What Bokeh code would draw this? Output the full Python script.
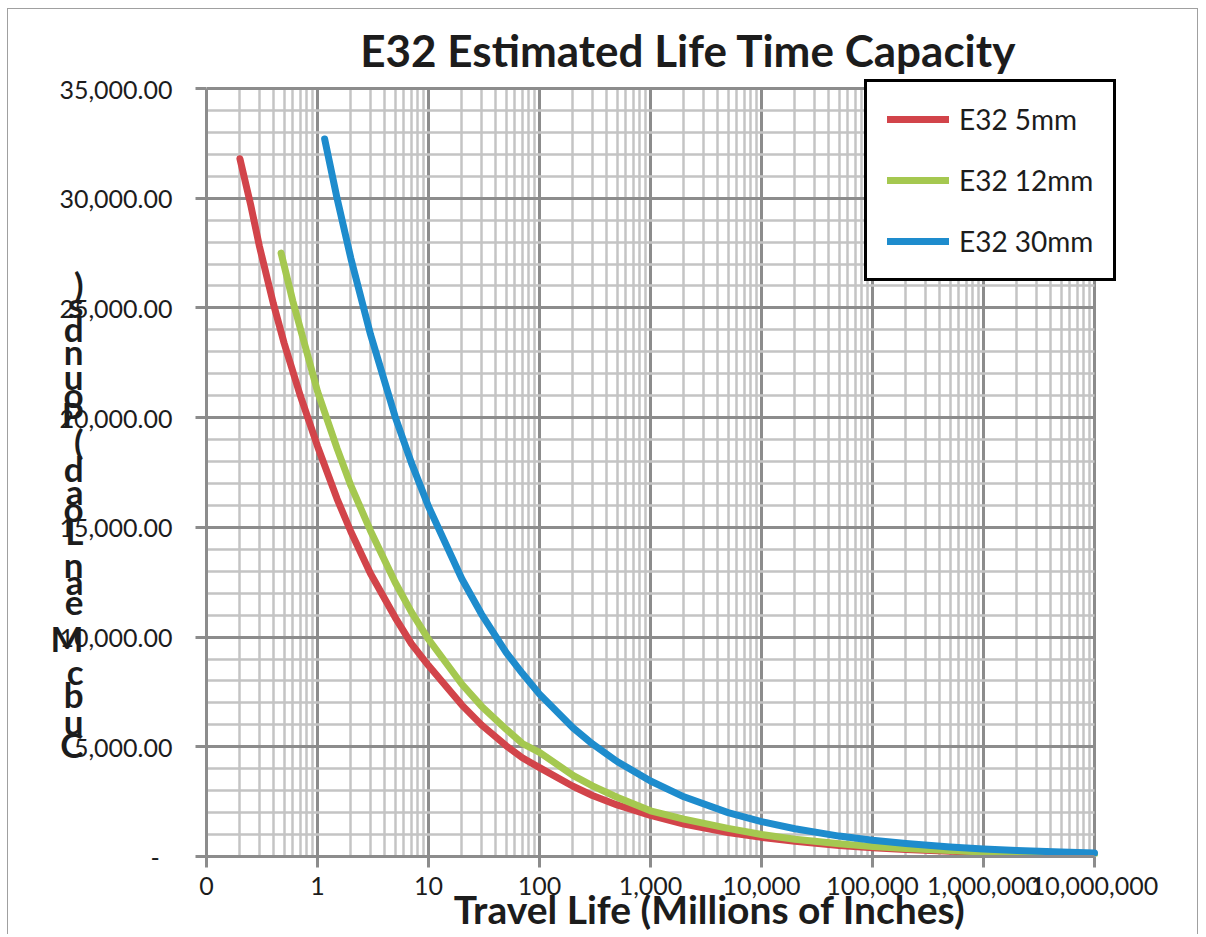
from bokeh.plotting import figure
from bokeh.models import (Range1d, FixedTicker, Legend, LegendItem, LinearAxis,
                          LinearScale)
from bokeh.embed import file_html
from bokeh.resources import INLINE

# ---- data ----
series_names = ["E32 5mm", "E32 12mm", "E32 30mm"]

red_x = [0.2, 0.25, 0.3, 0.4, 0.5, 0.7, 1, 1.5, 2, 3, 5, 7, 10, 20, 30, 50, 70,
         100, 200, 300, 500, 1000, 2000, 5000, 1e4, 2e4, 5e4, 1e5, 2e5, 5e5,
         1e6, 2e6]
red_y = [31800, 29700, 27800, 25200, 23400, 21000, 18700, 16300, 14800, 12900,
         10900, 9700, 8700, 6900, 6000, 5050, 4500, 4050, 3200, 2780, 2350,
         1870, 1480, 1090, 870, 690, 505, 400, 320, 235, 185, 150]

green_x = [0.47, 0.6, 0.8, 1, 1.5, 2, 3, 5, 7, 10, 20, 30, 50, 70, 100, 200,
           300, 500, 1000, 2000, 5000, 1e4, 2e4, 5e4, 1e5, 2e5, 5e5, 1e6, 2e6,
           5e6, 1e7]
green_y = [27500, 25300, 23000, 21200, 18600, 16900, 14850, 12500, 11150, 9900,
           7850, 6850, 5800, 5150, 4750, 3700, 3220, 2700, 2080, 1700, 1280,
           1000, 790, 580, 450, 360, 270, 210, 170, 125, 99]

blue_x = [1.16, 1.5, 2, 3, 5, 7, 10, 20, 30, 50, 70, 100, 200, 300, 500, 1000,
          2000, 5000, 1e4, 2e4, 5e4, 1e5, 2e5, 5e5, 1e6, 2e6, 5e6, 1e7]
blue_y = [32700, 30000, 27250, 23800, 20050, 17950, 15950, 12650, 11050, 9300,
          8350, 7400, 5870, 5130, 4330, 3440, 2720, 2000, 1590, 1265, 930, 740,
          590, 435, 345, 275, 200, 160]

x_major_ticks = [0.1, 1, 10, 100, 1000, 1e4, 1e5, 1e6, 1e7]
x_tick_labels = ["0", "1", "10", "100", "1,000", "10,000", "100,000",
                 "1,000,000", "10,000,000"]
y_major_ticks = [0, 5000, 10000, 15000, 20000, 25000, 30000, 35000]
y_tick_labels = ["-\u00a0\u00a0", "5,000.00", "10,000.00", "15,000.00",
                 "20,000.00", "25,000.00", "30,000.00", "35,000.00"]

title_text = "E32 Estimated Life Time Capacity"
x_title_text = "Travel Life (Millions of Inches)"
y_title_chars = list("CubcMeanLoad(Pounds)")

colors = ["#D2444A", "#A5C850", "#1E8CCD"]
TEXT = "#1c1c1c"

# ---- layout (pixels) ----
W, H = 1191, 926
FL, FT, FW, FH = 198, 69, 912, 778          # frame inside the canvas
X_MAX = 1.645e7                            # frame slightly wider than 1e7 (legend room)
Y_MAX = 35456                              # frame slightly taller than 35,000

p = figure(width=W, height=H, x_axis_type="log",
           x_range=Range1d(0.1, X_MAX), y_range=Range1d(0, Y_MAX),
           output_backend="svg", toolbar_location=None,
           min_border_left=FL, min_border_right=W - FL - FW,
           min_border_top=FT, min_border_bottom=H - FT - FH)
p.outline_line_color = None
p.background_fill_color = "white"
p.border_fill_color = "white"
p.styles = {"margin-left": "7px", "margin-top": "8px",
            "border-left": "1px solid #a0a0a0",
            "border-top": "1px solid #a0a0a0",
            "border-right": "1px solid #a0a0a0"}

xa = p.xaxis[0]
ya = p.yaxis[0]
xg = p.xgrid[0]
yg = p.ygrid[0]

x_minor = [k * t for t in x_major_ticks[:-1] for k in range(2, 10)]
y_minor = [v for v in range(0, 35001, 1000) if v % 5000 != 0]

xa.ticker = FixedTicker(ticks=x_major_ticks, minor_ticks=x_minor)
ya.ticker = FixedTicker(ticks=y_major_ticks, minor_ticks=y_minor)
xa.major_label_overrides = dict(zip(x_major_ticks, x_tick_labels))
ya.major_label_overrides = dict(zip(y_major_ticks, y_tick_labels))
xa.bounds = (0.1, 1e7)
ya.bounds = (0, 35000)

for ax in (xa, ya):
    ax.axis_line_color = "#8c8c8c"
    ax.axis_line_width = 3
    ax.major_tick_line_color = "#8c8c8c"
    ax.major_tick_line_width = 3
    ax.major_tick_out = 11
    ax.major_tick_in = 0
    ax.minor_tick_out = 0
    ax.minor_tick_in = 0
    ax.major_label_text_font = "Lato"
    ax.major_label_text_font_size = "25px"
    ax.major_label_text_color = TEXT
xa.major_label_standoff = 9
ya.major_label_standoff = 23

xg.bounds = (0.1, 1e7)
xg.cross_bounds = (0, 35000)
yg.bounds = (0, 35000)
yg.cross_bounds = (0.1, 1e7)
for g in (xg, yg):
    g.grid_line_color = "#8c8c8c"
    g.grid_line_width = 3
    g.minor_grid_line_color = "#c4c4c4"
    g.minor_grid_line_width = 2.5

renderers = []
for xs, ys, c in zip([red_x, green_x, blue_x], [red_y, green_y, blue_y], colors):
    r = p.line(xs, ys, line_color=c, line_width=7, line_join="round", line_cap="round")
    renderers.append(r)

legend = Legend(items=[LegendItem(label=n, renderers=[r]) for n, r in zip(series_names, renderers)],
                location=(658, 575))
legend.border_line_color = "black"
legend.border_line_alpha = 1.0
legend.border_line_width = 3
legend.background_fill_color = "white"
legend.background_fill_alpha = 1.0
legend.label_text_font = "Lato"
legend.label_text_font_size = "28px"
legend.label_text_color = TEXT
legend.glyph_width = 62
legend.glyph_height = 34
legend.label_height = 34
legend.label_standoff = 10
legend.spacing = 27
legend.padding = 20
legend.margin = 0
p.add_layout(legend)

# ---- texts hosted by tick-label-only axes on pixel ranges ----
p.extra_x_ranges = {"px": Range1d(0, FW)}
p.extra_x_scales = {"px": LinearScale()}
p.extra_y_ranges = {"py": Range1d(0, FH)}
p.extra_y_scales = {"py": LinearScale()}


def text_axis(axis, ticks, labels, size, standoff, bold=True):
    axis.ticker = FixedTicker(ticks=ticks, minor_ticks=[])
    axis.major_label_overrides = dict(zip(ticks, labels))
    axis.axis_line_color = None
    axis.major_tick_line_color = None
    axis.minor_tick_line_color = None
    axis.major_tick_out = 0
    axis.major_tick_in = 0
    axis.minor_tick_out = 0
    axis.minor_tick_in = 0
    axis.major_label_standoff = standoff
    axis.major_label_text_font = "Lato"
    axis.major_label_text_font_style = "bold" if bold else "normal"
    axis.major_label_text_font_size = size
    axis.major_label_text_color = TEXT
    return axis


title_axis = text_axis(LinearAxis(x_range_name="px"), [688 - 206], [title_text], "44px", 3)
p.add_layout(title_axis, "above")

xtitle_axis = text_axis(LinearAxis(x_range_name="px"), [709 - 206], [x_title_text], "39px", -12)
p.add_layout(xtitle_axis, "below")

char_page_y = [743, 720, 693, 670, 637, 600, 580, 563, 530, 507, 490, 467, 440,
               413, 393, 375, 350, 327, 303, 283]
ychar_axis = text_axis(LinearAxis(y_range_name="py"), [856 - v for v in char_page_y],
                       y_title_chars, "35px", -27)
p.add_layout(ychar_axis, "left")

open("out.html", "w").write(file_html(p, INLINE))
